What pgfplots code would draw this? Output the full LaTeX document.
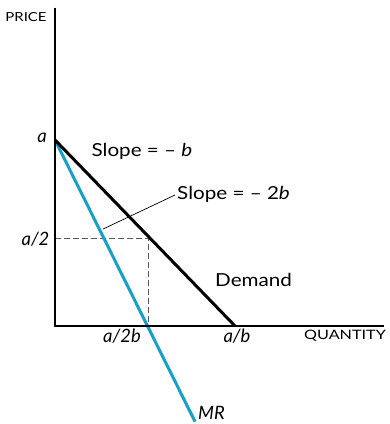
\documentclass[border=0pt]{standalone}
\usepackage{pgfplots}
\pgfplotsset{compat=1.18}
\usepackage{fontspec}
\setmainfont{Lato}
\definecolor{mrblue}{RGB}{22,160,200}
\newcommand{\wide}[1]{\scalebox{1.15}[1]{#1}}
\begin{document}
\begin{tikzpicture}
\begin{axis}[scale only axis, width=387bp, height=424bp,
  xmin=-0.3056, xmax=1.8444, ymin=-0.5326, ymax=1.7717,
  axis lines=none, clip=false]
\path (rel axis cs:0,0) rectangle (rel axis cs:1,1);
\addplot[gray!70!black, dash pattern=on 6bp off 3bp, line width=0.8bp] coordinates {(0,0.475) (0.52,0.475) (0.52,0)};
\addplot[black, line width=0.7bp] coordinates {(0.267,0.527) (0.667,0.712)};
\addplot[mrblue, line width=3bp] coordinates {(0,1.011) (0.778,-0.52)};
\addplot[black, line width=3bp] coordinates {(0,1.011) (1,0)};
\addplot[black, line width=2.4bp] coordinates {(0,1.73) (0,0) (1.83,0)};
\node[font=\fontsize{18}{20}\selectfont] at (axis cs:0.483,0.946) {\wide{Slope = – \textit{b}}};
\node[font=\fontsize{18}{20}\selectfont, anchor=west, inner sep=0pt] at (axis cs:0.678,0.717) {\wide{Slope = – 2\textit{b}}};
\node[font=\fontsize{18}{20}\selectfont, anchor=west, inner sep=0pt] at (axis cs:0.889,0.25) {\wide{Demand}};
\node[font=\fontsize{18.5}{20}\selectfont\itshape, anchor=east, inner sep=0pt] at (axis cs:-0.045,1.02) {a};
\node[font=\fontsize{18.5}{20}\selectfont\itshape, anchor=east, inner sep=0pt] at (axis cs:-0.03,0.473) {a/2};
\node[font=\fontsize{18.5}{20}\selectfont\itshape] at (axis cs:0.372,-0.054) {a/2b};
\node[font=\fontsize{18.5}{20}\selectfont\itshape] at (axis cs:1.011,-0.054) {a/b};
\node[font=\fontsize{18.5}{20}\selectfont\itshape, anchor=west, inner sep=0pt] at (axis cs:0.794,-0.473) {MR};
\node[font=\fontsize{13}{15}\selectfont] at (axis cs:1.611,-0.054) {\scalebox{1.25}[1]{QUANTITY}};
\node[font=\fontsize{12.5}{14}\selectfont] at (axis cs:-0.161,1.679) {\scalebox{1.2}[1]{PRICE}};
\end{axis}
\end{tikzpicture}
\end{document}
